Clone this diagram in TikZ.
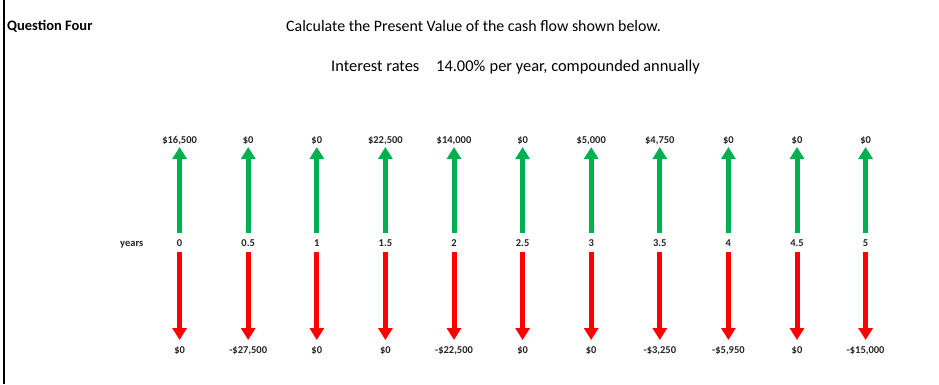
\documentclass[tikz,border=0pt]{standalone}
\usepackage{fontspec}
\setmainfont{Carlito}
\usetikzlibrary{arrows.meta}
\definecolor{upgreen}{HTML}{00B050}
\definecolor{downred}{HTML}{FF0000}
\begin{document}
\begin{tikzpicture}[x=1pt,y=-1pt,
  lbl/.style={font=\fontsize{10.5}{12}\selectfont\bfseries, text=black!85, inner sep=0pt, anchor=base},
  big/.style={font=\fontsize{15.9}{18}\selectfont, text=black, inner sep=0pt, anchor=base west},
  mid/.style={font=\fontsize{16.4}{18}\selectfont, text=black, inner sep=0pt, anchor=base west},
  upar/.style={draw=upgreen, line width=5pt, -{Triangle[width=14pt,length=12pt]}},
  dnar/.style={draw=downred, line width=5pt, -{Triangle[width=14pt,length=12pt]}},
  border/.style={draw=black, line width=2pt}]
\useasboundingbox (0,0) rectangle (939,384);
\fill[white] (0,0) rectangle (939,384);
\coordinate (bt) at (3.6,0);
\coordinate (bb) at (3.6,384);
\draw[border] (bt) -- (bb);
\node[big, font=\fontsize{14.5}{17}\selectfont\bfseries] (q) at (7,30.5) {Question Four};
\node[big] (title) at (286,31) {Calculate the Present Value of the cash flow shown below.};
\node[mid] (ir) at (331,71) {Interest rates};
\node[mid] (rate) at (436,71) {14.00\%};
\node[mid] (per) at (489.5,71) {per year, compounded annually};
\node[lbl, anchor=base west] (years) at (120,246.5) {years};
\foreach \i/\t/\u/\d in {0/0/{\$16,500}/{\$0}, 1/0.5/{\$0}/{-\$27,500}, 2/1/{\$0}/{\$0},
  3/1.5/{\$22,500}/{\$0}, 4/2/{\$14,000}/{-\$22,500}, 5/2.5/{\$0}/{\$0},
  6/3/{\$5,000}/{\$0}, 7/3.5/{\$4,750}/{-\$3,250}, 8/4/{\$0}/{-\$5,950},
  9/4.5/{\$0}/{\$0}, 10/5/{\$0}/{-\$15,000}}{
  \pgfmathsetmacro{\xx}{179.6+68.6*\i}
  \node[lbl] (top\i) at (\xx,143) {\u};
  \node[lbl] (yr\i) at (\xx,246.5) {\t};
  \node[lbl] (bot\i) at (\xx,353) {\d};
  \coordinate (us\i) at (\xx,233);
  \coordinate (ue\i) at (\xx,147);
  \coordinate (ds\i) at (\xx,252);
  \coordinate (de\i) at (\xx,340);
  \draw[upar] (us\i) -- (ue\i);
  \draw[dnar] (ds\i) -- (de\i);
}
\end{tikzpicture}
\end{document}
